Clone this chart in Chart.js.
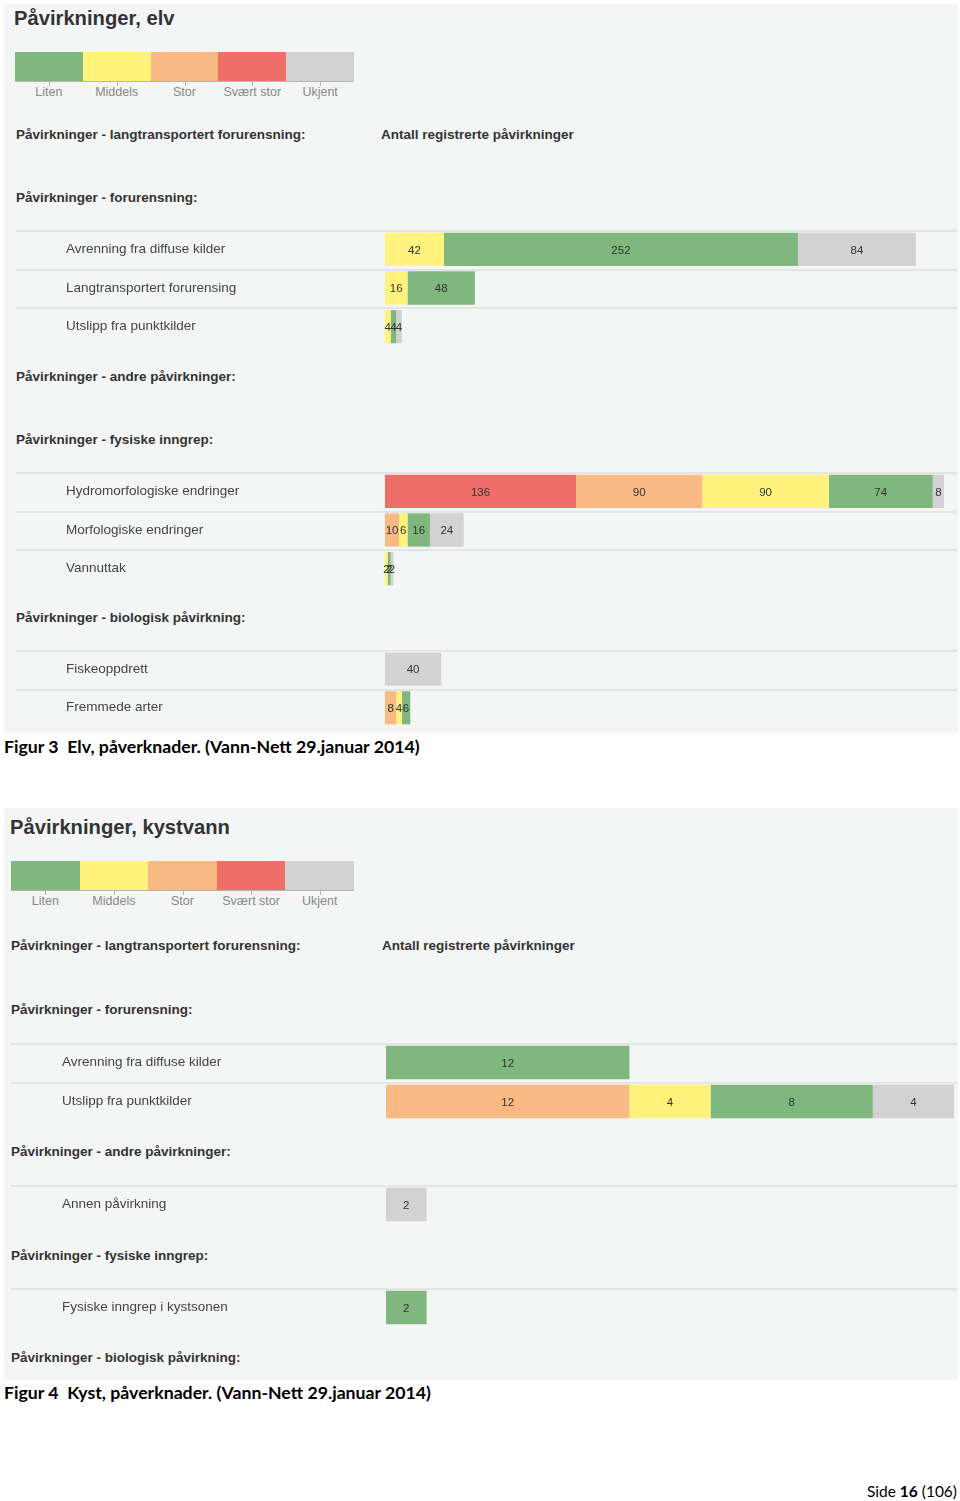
<!DOCTYPE html>
<html>
<head>
<meta charset="utf-8">
<script src="https://cdn.jsdelivr.net/npm/chart.js@4/dist/chart.umd.min.js"></script>
<style>
  body { margin:0; width:960px; height:1501px; background:#fff; position:relative; overflow:hidden;
         font-family:'Liberation Sans', Arial, sans-serif; }
  .panel { position:absolute; left:4px; width:954px; background:#f4f5f5; }
  .t { position:absolute; white-space:nowrap; }
  .title { font-size:20.2px; font-weight:bold; color:#333; line-height:20px; }
  .hdr { font-size:13.5px; font-weight:bold; color:#333; line-height:16px; }
  .seg { position:absolute; height:30px; }
  .lgl { position:absolute; font-size:12.5px; color:#888; line-height:14px; text-align:center; width:90px; }
  .tick { position:absolute; width:1px; height:4px; background:#b5b5b5; }
  .cap { font-family:Lato, 'Open Sans', sans-serif; font-weight:bold; font-size:17.7px; color:#000; line-height:20px; }
  .side { font-family:Lato, 'Open Sans', sans-serif; font-size:15.5px; color:#000; line-height:20px; }
  canvas { position:absolute; }
</style>
</head>
<body>
<!-- Figur 3: elv -->
<div class="panel" style="top:4px;height:729px"></div>
<div class="t title" style="left:14px;top:8px">Påvirkninger, elv</div>
<div class="t hdr" style="left:16px;top:127px">Påvirkninger - langtransportert forurensning:</div>
<div class="t hdr" style="left:381px;top:127px">Antall registrerte påvirkninger</div>
<div class="t hdr" style="left:16px;top:190px">Påvirkninger - forurensning:</div>
<canvas id="elvForurensning" width="942" height="116" style="left:16px;top:230px"></canvas>
<div class="t hdr" style="left:16px;top:369px">Påvirkninger - andre påvirkninger:</div>
<div class="t hdr" style="left:16px;top:432px">Påvirkninger - fysiske inngrep:</div>
<canvas id="elvFysiske" width="942" height="116" style="left:16px;top:472px"></canvas>
<div class="t hdr" style="left:16px;top:610px">Påvirkninger - biologisk påvirkning:</div>
<canvas id="elvBiologisk" width="942" height="77" style="left:16px;top:650px"></canvas>
<div class="t cap" style="left:4px;top:737px">Figur 3&nbsp; Elv, påverknader. (Vann-Nett 29.januar 2014)</div>

<!-- Figur 4: kystvann -->
<div class="panel" style="top:808px;height:572px"></div>
<div class="t title" style="left:10px;top:817px">Påvirkninger, kystvann</div>
<div class="t hdr" style="left:11px;top:938px">Påvirkninger - langtransportert forurensning:</div>
<div class="t hdr" style="left:382px;top:938px">Antall registrerte påvirkninger</div>
<div class="t hdr" style="left:11px;top:1002px">Påvirkninger - forurensning:</div>
<canvas id="kystForurensning" width="947" height="78" style="left:11px;top:1043px"></canvas>
<div class="t hdr" style="left:11px;top:1144px">Påvirkninger - andre påvirkninger:</div>
<canvas id="kystAndre" width="947" height="39" style="left:11px;top:1185px"></canvas>
<div class="t hdr" style="left:11px;top:1248px">Påvirkninger - fysiske inngrep:</div>
<canvas id="kystFysiske" width="947" height="39" style="left:11px;top:1288px"></canvas>
<div class="t hdr" style="left:11px;top:1350px">Påvirkninger - biologisk påvirkning:</div>
<div class="t cap" style="left:4px;top:1383px">Figur 4&nbsp; Kyst, påverknader. (Vann-Nett 29.januar 2014)</div>

<div class="t side" style="right:3px;top:1481px">Side <b>16</b> (106)</div>

<script>
// klasser (legend) og farger
const classNames = ['Liten', 'Middels', 'Stor', 'Svært stor', 'Ukjent'];
const classColors = ['#7fb77e', '#fff27d', '#f9b983', '#f06e6a', '#d2d2d2'];

// Elv - forurensning
const elvForLabels = ['Avrenning fra diffuse kilder', 'Langtransportert forurensing', 'Utslipp fra punktkilder'];
const elvForSvaertStor = [null, null, null];
const elvForStor = [null, null, null];
const elvForMiddels = [42, 16, 4];
const elvForLiten = [252, 48, 4];
const elvForUkjent = [84, null, 4];

// Elv - fysiske inngrep
const elvFysLabels = ['Hydromorfologiske endringer', 'Morfologiske endringer', 'Vannuttak'];
const elvFysSvaertStor = [136, null, null];
const elvFysStor = [90, 10, null];
const elvFysMiddels = [90, 6, 2];
const elvFysLiten = [74, 16, 2];
const elvFysUkjent = [8, 24, 2];

// Elv - biologisk paavirkning
const elvBioLabels = ['Fiskeoppdrett', 'Fremmede arter'];
const elvBioSvaertStor = [null, null];
const elvBioStor = [null, 8];
const elvBioMiddels = [null, 4];
const elvBioLiten = [null, 6];
const elvBioUkjent = [40, null];

// Kyst - forurensning
const kystForLabels = ['Avrenning fra diffuse kilder', 'Utslipp fra punktkilder'];
const kystForSvaertStor = [null, null];
const kystForStor = [null, 12];
const kystForMiddels = [null, 4];
const kystForLiten = [12, 8];
const kystForUkjent = [null, 4];

// Kyst - andre paavirkninger
const kystAndreLabels = ['Annen påvirkning'];
const kystAndreUkjent = [2];

// Kyst - fysiske inngrep
const kystFysLabels = ['Fysiske inngrep i kystsonen'];
const kystFysLiten = [2];

Chart.defaults.font.family = "'Liberation Sans', Arial, sans-serif";

function makeLegend(left, top, segW) {
  for (let i = 0; i < classNames.length; i++) {
    const x = left + i * segW;
    const seg = document.createElement('div');
    seg.className = 'seg';
    seg.style.cssText = 'left:' + x + 'px;top:' + top + 'px;width:' + (segW + 0.5) + 'px;background:' + classColors[i];
    document.body.appendChild(seg);
    const tick = document.createElement('div');
    tick.className = 'tick';
    tick.style.cssText = 'left:' + Math.round(x + segW / 2) + 'px;top:' + (top + 30) + 'px';
    document.body.appendChild(tick);
    const lbl = document.createElement('div');
    lbl.className = 'lgl';
    lbl.style.cssText = 'left:' + (x + segW / 2 - 45) + 'px;top:' + (top + 33) + 'px';
    lbl.textContent = classNames[i];
    document.body.appendChild(lbl);
  }
  const line = document.createElement('div');
  line.style.cssText = 'position:absolute;left:' + left + 'px;top:' + (top + 29) + 'px;width:' + (segW * 5) + 'px;height:1px;background:#b5b5b5';
  document.body.appendChild(line);
}

// tynne linjer over hver rad
const rowLines = {
  id: 'rowLines',
  beforeDraw(chart) {
    const ctx = chart.ctx;
    const area = chart.chartArea;
    const n = chart.data.labels.length;
    const h = (area.bottom - area.top) / n;
    ctx.save();
    ctx.strokeStyle = '#e3e5e5';
    ctx.lineWidth = 2;
    for (let i = 0; i < n; i++) {
      const y = Math.round(area.top + i * h) + 1;
      ctx.beginPath();
      ctx.moveTo(0, y);
      ctx.lineTo(chart.width, y);
      ctx.stroke();
    }
    ctx.restore();
  }
};

// tall midt i hvert segment
const valueLabels = {
  id: 'valueLabels',
  afterDatasetsDraw(chart) {
    const ctx = chart.ctx;
    ctx.save();
    ctx.font = "11.5px 'Liberation Sans', Arial, sans-serif";
    ctx.fillStyle = '#333';
    ctx.textAlign = 'center';
    ctx.textBaseline = 'middle';
    chart.data.datasets.forEach(function(ds, i) {
      const meta = chart.getDatasetMeta(i);
      meta.data.forEach(function(bar, j) {
        const v = ds.data[j];
        if (v === null || v === undefined) return;
        ctx.fillText(v, (bar.x + bar.base) / 2, bar.y + 1);
      });
    });
    ctx.restore();
  }
};

function makeSection(id, labels, svaertStor, stor, middels, liten, ukjent, xMax, indent, axisWidth) {
  const n = labels.length;
  const empty = new Array(n).fill(null);
  const series = [
    ['Svært stor', svaertStor || empty, classColors[3]],
    ['Stor', stor || empty, classColors[2]],
    ['Middels', middels || empty, classColors[1]],
    ['Liten', liten || empty, classColors[0]],
    ['Ukjent', ukjent || empty, classColors[4]]
  ];
  new Chart(document.getElementById(id), {
    type: 'bar',
    data: {
      labels: labels,
      datasets: series.map(function(s) {
        return {
          label: s[0],
          data: s[1],
          backgroundColor: s[2],
          borderWidth: 0,
          barPercentage: 1,
          categoryPercentage: 0.86
        };
      })
    },
    options: {
      indexAxis: 'y',
      responsive: false,
      maintainAspectRatio: false,
      animation: false,
      layout: { autoPadding: false, padding: { left: indent, right: 0, top: 0, bottom: 0 } },
      plugins: { legend: { display: false }, tooltip: { enabled: false } },
      scales: {
        x: { stacked: true, display: false, min: 0, max: xMax },
        y: {
          stacked: true,
          grid: { display: false, drawTicks: false },
          border: { display: false },
          ticks: { crossAlign: 'far', padding: 0, color: '#444', font: { size: 13.5 }, autoSkip: false },
          afterFit: function(scale) {
            scale.width = axisWidth;
            scale.paddingTop = 0;
            scale.paddingBottom = 0;
          }
        }
      }
    },
    plugins: [rowLines, valueLabels]
  });
}

makeLegend(15, 52, 67.8);
makeLegend(11, 861, 68.6);

makeSection('elvForurensning', elvForLabels, elvForSvaertStor, elvForStor, elvForMiddels, elvForLiten, elvForUkjent, 408, 50, 319);
makeSection('elvFysiske', elvFysLabels, elvFysSvaertStor, elvFysStor, elvFysMiddels, elvFysLiten, elvFysUkjent, 408, 50, 319);
makeSection('elvBiologisk', elvBioLabels, elvBioSvaertStor, elvBioStor, elvBioMiddels, elvBioLiten, elvBioUkjent, 408, 50, 319);

makeSection('kystForurensning', kystForLabels, kystForSvaertStor, kystForStor, kystForMiddels, kystForLiten, kystForUkjent, 28.2, 51, 324);
makeSection('kystAndre', kystAndreLabels, null, null, null, null, kystAndreUkjent, 28.2, 51, 324);
makeSection('kystFysiske', kystFysLabels, null, null, null, kystFysLiten, null, 28.2, 51, 324);
</script>
</body>
</html>
